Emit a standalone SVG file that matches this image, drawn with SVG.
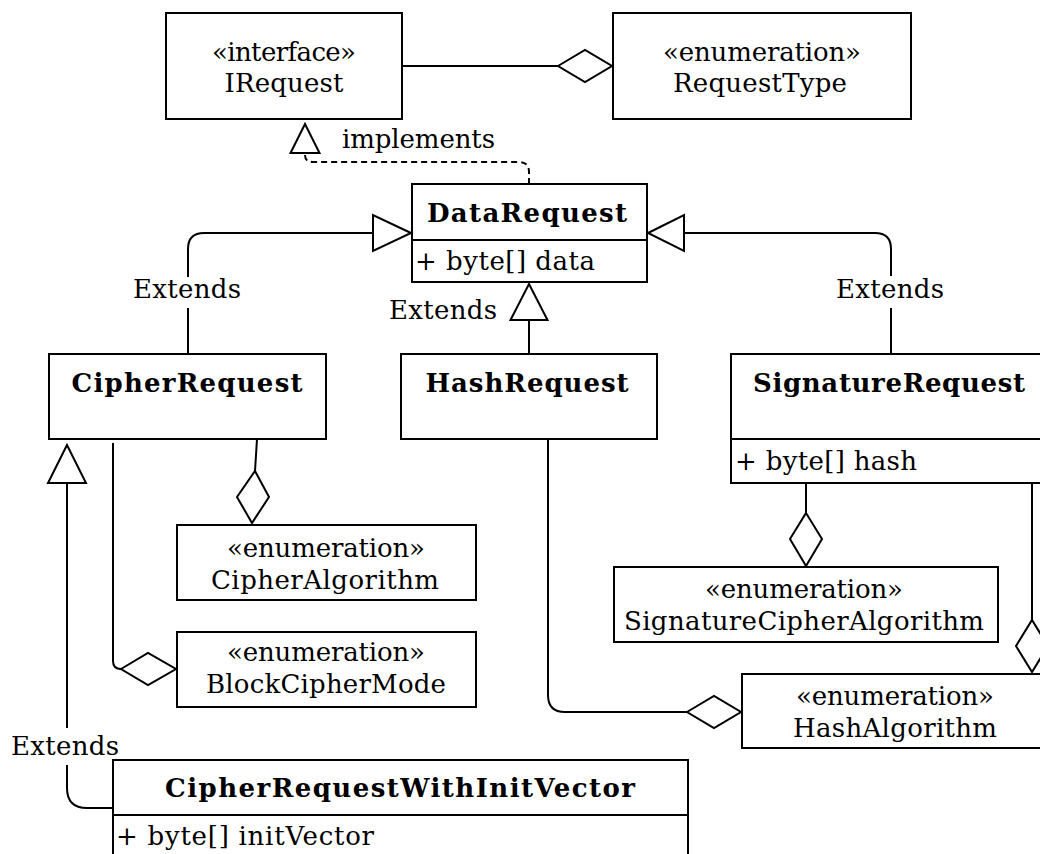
<svg xmlns="http://www.w3.org/2000/svg" width="1040" height="854" viewBox="0 0 1040 854">
<style>
  .box { fill: #fff; stroke: #000; stroke-width: 2; }
  .sep { stroke: #000; stroke-width: 2; }
  text { font-family: "DejaVu Serif", serif; font-size: 26px; fill: #000; }
  .c { text-anchor: middle; }
  .e { text-anchor: end; }
  .b { font-weight: bold; }
  .edge { fill: none; stroke: #000; stroke-width: 2; }
  .dash { stroke-dasharray: 6 4; }
  .head { fill: #fff; stroke: #000; stroke-width: 2; stroke-linejoin: miter; }
</style>
<rect width="1040" height="854" fill="#fff"/>

<!-- relations -->
<g id="connectors">
  <!-- IRequest aggregates RequestType -->
  <path class="edge" d="M402,66 H558"/>
  <polygon class="head" points="558,66 585,50 612,66 585,82"/>

  <!-- DataRequest implements IRequest -->
  <path class="edge dash" d="M529,184 V172 Q529,162 519,162 H313 Q305,162 305,155"/>
  <polygon class="head" points="305,124 290.5,153 319.5,153"/>
  <text x="342" y="148" textLength="153" lengthAdjust="spacing">implements</text>

  <!-- CipherRequest extends DataRequest -->
  <path class="edge" d="M188,354 V308 M188,277 V249 Q188,233 204,233 H373"/>
  <polygon class="head" points="411,233 373,215 373,251"/>
  <text class="c" x="187" y="298" textLength="108" lengthAdjust="spacing">Extends</text>

  <!-- HashRequest extends DataRequest -->
  <path class="edge" d="M529,354 V320"/>
  <polygon class="head" points="529,284 510.5,320 547.5,320"/>
  <text class="e" x="497" y="319" textLength="108" lengthAdjust="spacing">Extends</text>

  <!-- SignatureRequest extends DataRequest -->
  <path class="edge" d="M891,354 V308 M891,276 V249 Q891,233 875,233 H684"/>
  <polygon class="head" points="648,233 684,215 684,251"/>
  <text class="c" x="890" y="298" textLength="108" lengthAdjust="spacing">Extends</text>

  <!-- CipherRequest aggregates CipherAlgorithm -->
  <path class="edge" d="M257,439 L255,471"/>
  <polygon class="head" points="255,471 269,497 252,523 237,497"/>

  <!-- CipherRequest aggregates BlockCipherMode -->
  <path class="edge" d="M113,443 V661 Q113,669 121,669"/>
  <polygon class="head" points="121,669 148,653 176,669 148,685"/>

  <!-- CipherRequestWithInitVector extends CipherRequest -->
  <path class="edge" d="M67,483 V728 M67,765 V788 Q67,808 87,808 H113"/>
  <polygon class="head" points="67,445 48,483 86,483"/>
  <text class="c" x="65" y="755" textLength="108" lengthAdjust="spacing">Extends</text>

  <!-- HashRequest aggregates HashAlgorithm -->
  <path class="edge" d="M548,439 V695 Q548,712 565,712 H687"/>
  <polygon class="head" points="687,712 714,696 741,712 714,728"/>

  <!-- SignatureRequest aggregates SignatureCipherAlgorithm -->
  <path class="edge" d="M806,483 V513"/>
  <polygon class="head" points="806,513 822,539 806,566 790,539"/>

  <!-- SignatureRequest aggregates HashAlgorithm -->
  <path class="edge" d="M1032,483 V620"/>
  <polygon class="head" points="1032,620 1048,646 1032,672 1016,646"/>
</g>

<g id="IRequest">
  <rect class="box" x="166" y="13" width="236" height="106"/>
  <text class="c" x="284" y="61" textLength="144" lengthAdjust="spacing">«interface»</text>
  <text class="c" x="284" y="92" textLength="119" lengthAdjust="spacing">IRequest</text>
</g>

<g id="RequestType">
  <rect class="box" x="613" y="13" width="298" height="106"/>
  <text class="c" x="762" y="61" textLength="198" lengthAdjust="spacing">«enumeration»</text>
  <text class="c" x="760" y="92" textLength="174" lengthAdjust="spacing">RequestType</text>
</g>

<g id="DataRequest">
  <rect class="box" x="412" y="184" width="235" height="98"/>
  <line class="sep" x1="412" y1="240" x2="647" y2="240"/>
  <text class="c b" x="527" y="222" textLength="200" lengthAdjust="spacing">DataRequest</text>
  <text x="415" y="270" textLength="180" lengthAdjust="spacing">+ byte[] data</text>
</g>

<g id="CipherRequest">
  <rect class="box" x="49" y="354" width="277" height="85"/>
  <text class="c b" x="187" y="392" textLength="231" lengthAdjust="spacing">CipherRequest</text>
</g>

<g id="HashRequest">
  <rect class="box" x="401" y="354" width="256" height="85"/>
  <text class="c b" x="527" y="392" textLength="203" lengthAdjust="spacing">HashRequest</text>
</g>

<g id="SignatureRequest">
  <rect class="box" x="731" y="354" width="316" height="129"/>
  <line class="sep" x1="731" y1="439" x2="1047" y2="439"/>
  <text class="c b" x="889" y="392" textLength="272" lengthAdjust="spacing">SignatureRequest</text>
  <text x="735" y="470" textLength="182" lengthAdjust="spacing">+ byte[] hash</text>
</g>

<g id="CipherAlgorithm">
  <rect class="box" x="177" y="525" width="299" height="75"/>
  <text class="c" x="326" y="557" textLength="198" lengthAdjust="spacing">«enumeration»</text>
  <text class="c" x="325" y="589" textLength="228" lengthAdjust="spacing">CipherAlgorithm</text>
</g>

<g id="BlockCipherMode">
  <rect class="box" x="177" y="632" width="299" height="75"/>
  <text class="c" x="326" y="661" textLength="198" lengthAdjust="spacing">«enumeration»</text>
  <text class="c" x="326" y="693" textLength="240" lengthAdjust="spacing">BlockCipherMode</text>
</g>

<g id="SignatureCipherAlgorithm">
  <rect class="box" x="614" y="567" width="384" height="75"/>
  <text class="c" x="804" y="598" textLength="198" lengthAdjust="spacing">«enumeration»</text>
  <text class="c" x="804" y="630" textLength="360" lengthAdjust="spacing">SignatureCipherAlgorithm</text>
</g>

<g id="HashAlgorithm">
  <rect class="box" x="742" y="674" width="306" height="74"/>
  <text class="c" x="895" y="705" textLength="198" lengthAdjust="spacing">«enumeration»</text>
  <text class="c" x="895" y="737" textLength="204" lengthAdjust="spacing">HashAlgorithm</text>
</g>

<g id="CipherRequestWithInitVector">
  <rect class="box" x="113" y="760" width="575" height="130"/>
  <line class="sep" x1="113" y1="815" x2="688" y2="815"/>
  <text class="c b" x="400" y="797" textLength="470" lengthAdjust="spacing">CipherRequestWithInitVector</text>
  <text x="116" y="845" textLength="258" lengthAdjust="spacing">+ byte[] initVector</text>
</g>
</svg>
